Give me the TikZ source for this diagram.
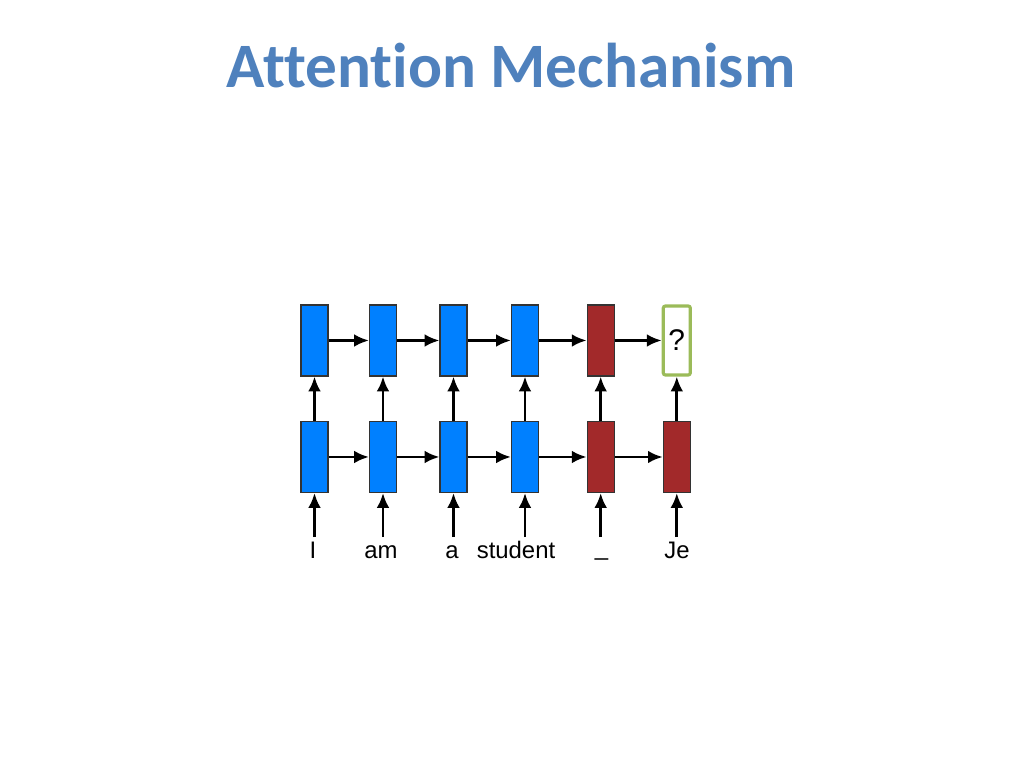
\documentclass[tikz,border=0pt]{standalone}
\usepackage{fontspec}
\setmainfont{Liberation Sans}
\newfontfamily\titlefont[Ligatures=NoCommon]{Carlito}
\usetikzlibrary{arrows.meta}
\definecolor{encblue}{HTML}{0080FF}
\definecolor{decred}{HTML}{A2292A}
\definecolor{outgreen}{HTML}{9BBB59}
\definecolor{titleblue}{HTML}{4F81BD}
\tikzset{cell/.style={draw=black!80, line width=0.3pt, minimum width=0.27cm, minimum height=0.71cm, inner sep=0pt}}
\tikzset{enc/.style={cell, fill=encblue}}
\tikzset{dec/.style={cell, fill=decred}}
\tikzset{outbox/.style={draw=outgreen, line width=0.9pt, fill=white, rounded corners=0.6pt, minimum width=0.27cm, minimum height=0.69cm, inner sep=0pt, font=\fontsize{8.5}{10}\selectfont}}
\tikzset{link/.style={-{Latex[length=4.2pt, width=3.6pt]}, line width=0.8pt}}
\tikzset{word/.style={anchor=base, inner sep=0pt, font=\fontsize{6.8}{8}\selectfont}}

\begin{document}
\begin{tikzpicture}
    \useasboundingbox (0, 0) rectangle (10.24, 7.68);
    \node [anchor=base, text=titleblue, font=\titlefont\bfseries\fontsize{18}{22}\selectfont] (title) at (5.11, 6.80) {Attention Mechanism};
    % bottom row
    \node [enc] (b1) at (3.145, 3.11) {};
    \node [enc] (b2) at (3.83, 3.11) {};
    \node [enc] (b3) at (4.535, 3.11) {};
    \node [enc] (b4) at (5.25, 3.11) {};
    \node [dec] (b5) at (6.007, 3.11) {};
    \node [dec] (b6) at (6.768, 3.11) {};
    % top row
    \node [enc] (t1) at (3.145, 4.275) {};
    \node [enc] (t2) at (3.83, 4.275) {};
    \node [enc] (t3) at (4.535, 4.275) {};
    \node [enc] (t4) at (5.25, 4.275) {};
    \node [dec] (t5) at (6.007, 4.275) {};
    \node [outbox] (t6) at (6.768, 4.275) {?};
    % inputs
    \node [word] (w1) at (3.13, 2.09) {I};
    \node [word] (w2) at (3.81, 2.09) {am};
    \node [word] (w3) at (4.52, 2.09) {a};
    \node [word] (w4) at (5.16, 2.09) {student};
    \node [word] (w5) at (6.015, 2.12) {\_};
    \node [word] (w6) at (6.77, 2.09) {Je};
    \foreach \i in {1, ..., 6} {
        \coordinate (in\i) at ([yshift=-0.44cm] b\i.south);
        \draw [link] (in\i) -- (b\i);
        \draw [link] (b\i) -- (t\i);
    }
    \foreach \i/\j in {1/2, 2/3, 3/4, 4/5, 5/6} {
        \draw [link] (b\i) -- (b\j);
        \draw [link] (t\i) -- (t\j);
    }
\end{tikzpicture}
\end{document}
